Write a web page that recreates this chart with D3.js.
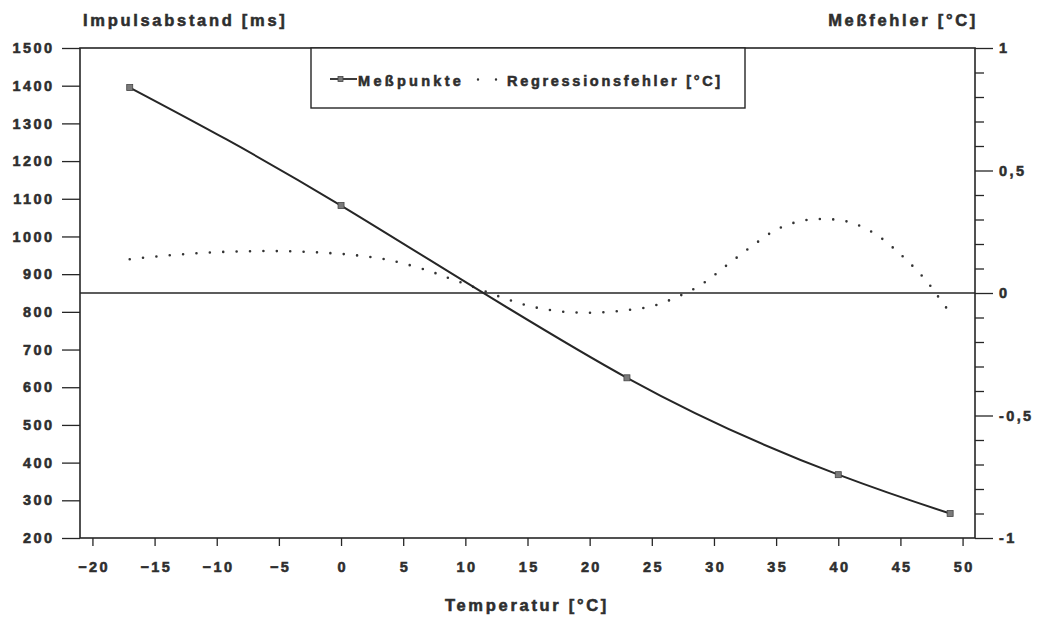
<!DOCTYPE html>
<html>
<head>
<meta charset="utf-8">
<script src="https://cdn.jsdelivr.net/npm/d3@7"></script>
<style>
  html, body { margin: 0; padding: 0; background: #fff; }
  svg { display: block; }
  text { font-family: "Liberation Sans", Arial, sans-serif; font-weight: bold; fill: #2e2e2e;
         stroke: #2e2e2e; stroke-width: 0.55px; }
</style>
</head>
<body>
<svg id="chart" width="1039" height="620"></svg>
<script>
// Measured pulse spacing vs. temperature
const measTemp = [-17, 0, 23, 40, 49];
const measPulse = [1395, 1082, 625, 368, 265];

// Residual error of the regression curve [°C]
const errTemp = [-17, -14, -11, -8, -5, -2, 1, 4, 7, 9, 11, 13, 15, 17, 19, 21, 23, 25, 27, 29, 31, 33, 35, 37, 39, 41, 43, 45, 47, 48, 49];
const errValue = [0.138, 0.153, 0.164, 0.170, 0.171, 0.166, 0.155, 0.133, 0.091, 0.055, 0.018, -0.019, -0.051, -0.071, -0.080, -0.079, -0.070, -0.054, -0.017, 0.035, 0.112, 0.189, 0.258, 0.294, 0.302, 0.288, 0.240, 0.158, 0.055, -0.012, -0.082];

// Tick values
const xTicks = [-20, -15, -10, -5, 0, 5, 10, 15, 20, 25, 30, 35, 40, 45, 50];
const leftTicks = [200, 300, 400, 500, 600, 700, 800, 900, 1000, 1100, 1200, 1300, 1400, 1500];
const rightTicks = [-1, -0.5, 0, 0.5, 1];
const rightMinor = [-0.9, -0.8, -0.7, -0.6, -0.4, -0.3, -0.2, -0.1, 0.1, 0.2, 0.3, 0.4, 0.6, 0.7, 0.8, 0.9];

// Texts
const titleLeft = "Impulsabstand [ms]";
const titleRight = "Meßfehler [°C]";
const titleX = "Temperatur [°C]";
const legendNames = ["Meßpunkte", "Regressionsfehler [°C]"];

const svg = d3.select("#chart");
const L = 80, R = 975, T = 48, B = 538;
const ink = "#262626";

const x = d3.scaleLinear().domain([-21, 51]).range([L, R]);
const yL = d3.scaleLinear().domain([200, 1500]).range([B, T]);
const yR = d3.scaleLinear().domain([-1, 1]).range([B, T]);

const LS = 2.4; // letter spacing of the tick labels

// Axes
const gLeft = svg.append("g").attr("transform", `translate(${L},0)`)
  .call(d3.axisLeft(yL).tickValues(leftTicks).tickSize(18).tickSizeOuter(0).tickPadding(10).tickFormat(d3.format("d")));
const gBottom = svg.append("g").attr("transform", `translate(0,${B})`)
  .call(d3.axisBottom(x).tickValues(xTicks).tickSize(8).tickSizeOuter(0).tickPadding(16).tickFormat(d3.format("d")));
const gRightMinor = svg.append("g").attr("transform", `translate(${R},0)`)
  .call(d3.axisRight(yR).tickValues(rightMinor).tickSize(9).tickSizeOuter(0).tickFormat(""));
const gRight = svg.append("g").attr("transform", `translate(${R},0)`)
  .call(d3.axisRight(yR).tickValues(rightTicks).tickSize(18).tickSizeOuter(0).tickPadding(6)
    .tickFormat(d => String(d).replace(".", ",")));

[gLeft, gBottom, gRight, gRightMinor].forEach(g => {
  g.select(".domain").remove();
  g.selectAll(".tick line").attr("stroke", ink).attr("stroke-width", 1.3);
  g.selectAll(".tick text").attr("font-size", 14.5).style("letter-spacing", LS + "px")
    .attr("font-family", null).attr("fill", null);
});
gLeft.selectAll(".tick text").attr("dx", LS);
gBottom.selectAll(".tick text").attr("dx", LS / 2);

// Plot frame
svg.append("rect").attr("x", L).attr("y", T).attr("width", R - L).attr("height", B - T)
  .attr("fill", "none").attr("stroke", ink).attr("stroke-width", 1.6);

// Zero line of the error axis
svg.append("line").attr("x1", L).attr("x2", R).attr("y1", yR(0)).attr("y2", yR(0))
  .attr("stroke", ink).attr("stroke-width", 1.4);

// Regression error, dotted
const errLine = d3.line().x((d, i) => x(errTemp[i])).y(d => yR(d)).curve(d3.curveCatmullRom.alpha(0.5));
svg.append("path").attr("d", errLine(errValue))
  .attr("fill", "none").attr("stroke", "#333").attr("stroke-width", 2.6)
  .attr("stroke-linecap", "round").attr("stroke-dasharray", "0 13.4");

// Measurement curve
const measLine = d3.line().x((d, i) => x(measTemp[i])).y(d => yL(d)).curve(d3.curveNatural);
svg.append("path").attr("d", measLine(measPulse))
  .attr("fill", "none").attr("stroke", ink).attr("stroke-width", 2);
svg.append("g").selectAll("rect").data(measPulse).join("rect")
  .attr("x", (d, i) => x(measTemp[i]) - 3).attr("y", d => yL(d) - 3)
  .attr("width", 6).attr("height", 6)
  .attr("fill", "#7a7a7a").attr("stroke", "#444").attr("stroke-width", 0.8);

// Legend
const lg = svg.append("g");
lg.append("rect").attr("x", 311).attr("y", T).attr("width", 434).attr("height", 60)
  .attr("fill", "#fff").attr("stroke", ink).attr("stroke-width", 1.4);
lg.append("line").attr("x1", 330).attr("x2", 357).attr("y1", 79).attr("y2", 79)
  .attr("stroke", ink).attr("stroke-width", 1.8);
lg.append("rect").attr("x", 338).attr("y", 76.5).attr("width", 5).attr("height", 5)
  .attr("fill", "#7a7a7a").attr("stroke", "#444").attr("stroke-width", 0.8);
lg.append("path").attr("d", "M478,79.5L501,79.5")
  .attr("stroke", "#333").attr("stroke-width", 2.4).attr("stroke-linecap", "round")
  .attr("stroke-dasharray", "0 18 0 5 0 100");
lg.append("text").attr("x", 358).attr("y", 86).attr("font-size", 14.5)
  .style("letter-spacing", "3.3px").text(legendNames[0]);
lg.append("text").attr("x", 507).attr("y", 86).attr("font-size", 14.5)
  .style("letter-spacing", "2.7px").text(legendNames[1]);

// Axis titles
svg.append("text").attr("x", 83).attr("y", 26).attr("font-size", 16.5)
  .style("letter-spacing", "2.7px").text(titleLeft);
svg.append("text").attr("x", 978).attr("y", 26).attr("font-size", 16.5).attr("text-anchor", "end")
  .style("letter-spacing", "2.7px").text(titleRight);
svg.append("text").attr("x", 527).attr("y", 611).attr("font-size", 16.5).attr("text-anchor", "middle")
  .style("letter-spacing", "2.7px").text(titleX);
</script>
</body>
</html>
